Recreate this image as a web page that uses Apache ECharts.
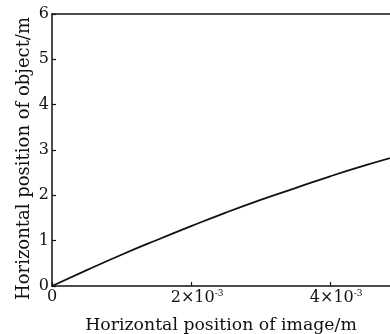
<!DOCTYPE html>
<html>
<head>
<meta charset="utf-8">
<script src="https://cdn.jsdelivr.net/npm/echarts@6/dist/echarts.min.js"></script>
<style>html,body{margin:0;padding:0;background:#fff;overflow:hidden}#c{width:390px;height:334px}</style>
</head>
<body>
<div id="c"></div>
<script>
// image position (m)
const imagePos = [0, 0.0005, 0.001, 0.0015, 0.002, 0.0025, 0.003, 0.0035, 0.004, 0.0045, 0.005];
// object position (m)
const objectPos = [0, 0.35, 0.69, 1.01, 1.32, 1.62, 1.90, 2.16, 2.42, 2.66, 2.88];
const xTickValues = [0, 0.002, 0.004];
const xTickLabels = ['0', '2×10', '4×10'];
const yTicks = [0, 1, 2, 3, 4, 5, 6];
const xMaxVisible = 0.00486; // the reference is cropped at this image position
const xTitle = 'Horizontal position of image/m';
const yTitle = 'Horizontal position of object/m';

const FONT = 'DejaVu Serif';
const chart = echarts.init(document.getElementById('c'), null, {renderer: 'canvas'});
chart.setOption({
  animation: false,
  backgroundColor: '#fff',
  grid: {left: 52, top: 14, bottom: 48, right: 0, show: false, containLabel: false, outerBoundsMode: 'none'},
  xAxis: [{
    type: 'value', min: 0, max: xMaxVisible,
    name: xTitle, nameLocation: 'middle', nameGap: 31, nameMoveOverlap: false,
    nameTextStyle: {fontFamily: FONT, fontSize: 17.3, color: '#111'},
    axisLine: {show: true, onZero: false, lineStyle: {color: '#111', width: 1.5}},
    axisTick: {show: true, inside: true, length: 4, customValues: xTickValues, lineStyle: {color: '#111', width: 1.2}},
    splitLine: {show: false},
    axisLabel: {
      margin: 3, color: '#111', fontFamily: FONT, fontSize: 16,
      customValues: xTickValues,
      formatter: function (v) {
        let idx = -1;
        xTickValues.forEach((t, i) => { if (Math.abs(t - v) < 1e-9) idx = i; });
        if (idx < 0) return '';
        if (idx === 0) return xTickLabels[0];
        return '{a|' + xTickLabels[idx] + '}{s|-3}';
      },
      rich: {
        a: {fontFamily: FONT, fontSize: 16, color: '#111', padding: [0, 0, 0, 12]},
        s: {fontFamily: FONT, fontSize: 9, color: '#111', padding: [0, 0, 9, 0]}
      }
    }
  }, {
    type: 'value', min: 0, max: xMaxVisible, position: 'top',
    axisLine: {show: true, onZero: false, lineStyle: {color: '#111', width: 1.5}},
    axisTick: {show: false}, axisLabel: {show: false}, splitLine: {show: false}
  }],
  yAxis: {
    type: 'value', min: 0, max: 6, interval: 1,
    name: yTitle, nameLocation: 'middle', nameGap: 19, nameRotate: 90, nameMoveOverlap: false,
    nameTextStyle: {fontFamily: FONT, fontSize: 18, color: '#111', padding: [0, 17, 0, 0]},
    axisLine: {show: true, onZero: false, lineStyle: {color: '#111', width: 1.5}},
    axisTick: {show: true, inside: true, length: 4, lineStyle: {color: '#111', width: 1.2}},
    splitLine: {show: false},
    axisLabel: {margin: 3, color: '#111', fontFamily: FONT, fontSize: 16,
      formatter: function (v) { return yTicks.indexOf(v) >= 0 ? String(v) : ''; }}
  },
  series: [{
    type: 'line', smooth: true, showSymbol: false, xAxisIndex: 0,
    data: imagePos.map((x, i) => [x, objectPos[i]]),
    lineStyle: {color: '#111', width: 1.8}
  }]
});
</script>
</body>
</html>
